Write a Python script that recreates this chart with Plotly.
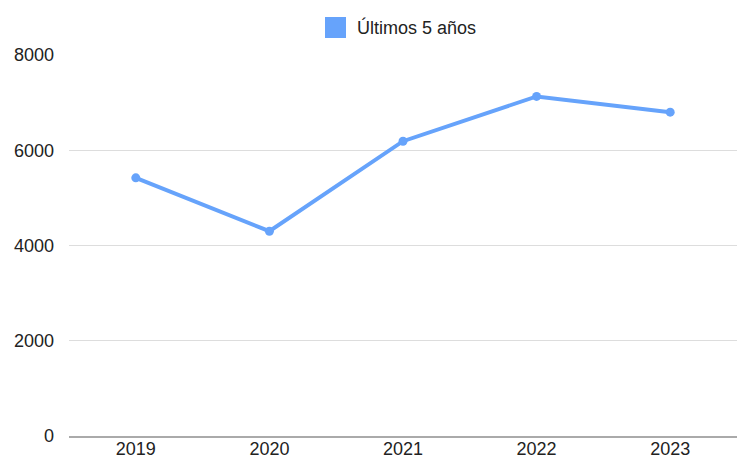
import plotly.graph_objects as go

years = ["2019", "2020", "2021", "2022", "2023"]
values = [5420, 4300, 6190, 7130, 6800]
series_name = "Últimos 5 años"
y_ticks = [0, 2000, 4000, 6000, 8000]

color = "#66a3fb"
font_family = "Liberation Sans, Arial, sans-serif"

W, H = 755, 459
ML, MR, MT, MB = 69, 18, 55, 23
PW, PH = W - ML - MR, H - MT - MB


def px_x(px):
    return (px - ML) / PW


def px_y(py):
    return (H - MB - py) / PH


fig = go.Figure()
fig.add_trace(go.Scatter(
    x=years, y=values, mode="lines+markers", name=series_name,
    line=dict(color=color, width=4),
    marker=dict(color=color, size=9),
    showlegend=False, hoverinfo="x+y",
))

# legend drawn as a square swatch plus its label
fig.add_shape(type="rect", xref="paper", yref="paper",
              x0=px_x(325), x1=px_x(346), y0=px_y(38), y1=px_y(17),
              fillcolor=color, line=dict(width=0))
fig.add_annotation(text=series_name, xref="paper", yref="paper",
                   x=px_x(355), y=px_y(28), xanchor="left", yanchor="middle",
                   showarrow=False, font=dict(size=18, color="#222222"))

fig.update_layout(
    width=W, height=H,
    margin=dict(l=ML, r=MR, t=MT, b=MB, autoexpand=False),
    paper_bgcolor="white", plot_bgcolor="white",
    font=dict(family=font_family, size=18, color="#222222"),
    showlegend=False,
    xaxis=dict(type="category", showgrid=False, showline=True, linecolor="#aaaaaa",
               linewidth=1.5, ticks="", ticklabelstandoff=-4, range=[-0.5, 4.5]),
    yaxis=dict(range=[0, 8000], tickvals=y_ticks, showgrid=True, gridcolor="#dddddd",
               gridwidth=1, zeroline=False, ticks="", ticklabelstandoff=14,
               showline=False),
)

fig.write_html("out.html", config={"displayModeBar": False},
               post_script="document.body.style.margin='0';document.body.style.overflow='hidden';")
